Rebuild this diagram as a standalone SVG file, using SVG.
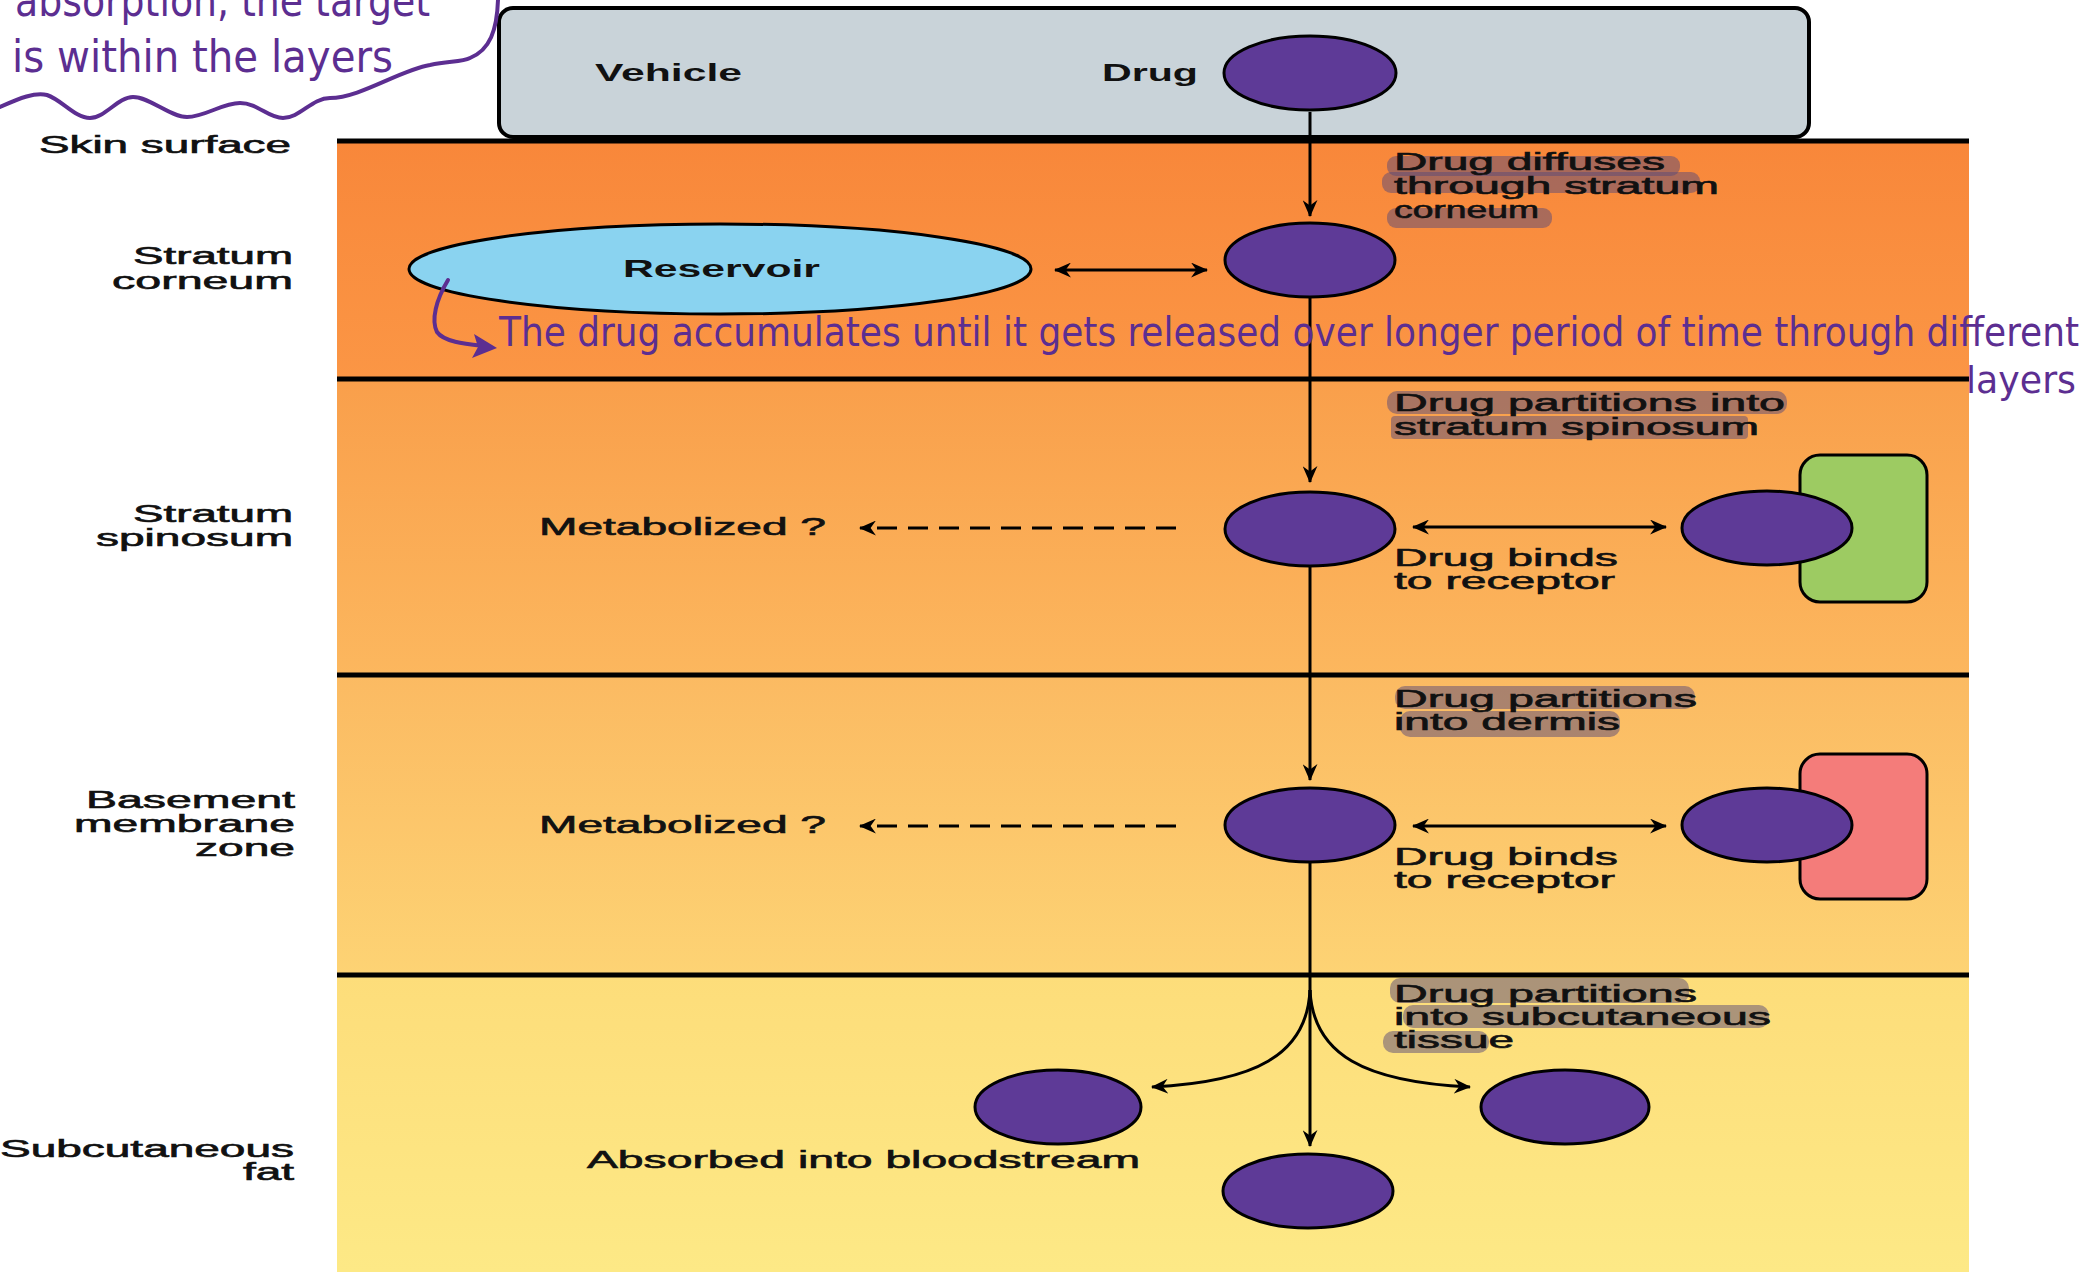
<svg xmlns="http://www.w3.org/2000/svg" width="2086" height="1272" viewBox="0 0 2086 1272">
<style>
.t{font-family:"Liberation Sans",Arial,sans-serif;font-size:23px;fill:#111;stroke:#111;stroke-width:0.6}
.tb{font-family:"Liberation Sans",Arial,sans-serif;font-size:23px;fill:#111;font-weight:bold}
.drug{fill:#5e3a97;stroke:#000;stroke-width:3}
.ln{fill:none;stroke:#000;stroke-width:3}
.dash{fill:none;stroke:#000;stroke-width:3;stroke-dasharray:20 11}
.layer{stroke:#000;stroke-width:5}
.hl{fill:#5a4a78;opacity:0.5}
.hw{font-family:"DejaVu Sans Condensed","DejaVu Sans",sans-serif;fill:#5c2e91}
.pen{fill:none;stroke:#5c2e91;stroke-width:4;stroke-linecap:round;stroke-linejoin:round}
</style>
<defs>
<marker id="ah" viewBox="0 0 16 14" refX="15" refY="7" markerWidth="17" markerHeight="15" markerUnits="userSpaceOnUse" orient="auto-start-reverse">
<path d="M0,0 L16,7 L0,14 L5,7 Z" fill="#000"/>
</marker>
<linearGradient id="g1" x1="0" y1="0" x2="0" y2="1"><stop offset="0" stop-color="#f8873a"/><stop offset="1" stop-color="#fb9645"/></linearGradient>
<linearGradient id="g2" x1="0" y1="0" x2="0" y2="1"><stop offset="0" stop-color="#f99f4b"/><stop offset="1" stop-color="#fcb75e"/></linearGradient>
<linearGradient id="g3" x1="0" y1="0" x2="0" y2="1"><stop offset="0" stop-color="#fbba62"/><stop offset="1" stop-color="#fdd374"/></linearGradient>
<linearGradient id="g4" x1="0" y1="0" x2="0" y2="1"><stop offset="0" stop-color="#fddd7a"/><stop offset="1" stop-color="#fde986"/></linearGradient>
</defs>
<rect width="2086" height="1272" fill="#fff"/>

<g id="layers">
<rect x="337" y="141" width="1632" height="238" fill="url(#g1)"/>
<rect x="337" y="379" width="1632" height="296" fill="url(#g2)"/>
<rect x="337" y="675" width="1632" height="300" fill="url(#g3)"/>
<rect x="337" y="975" width="1632" height="297" fill="url(#g4)"/>
<line class="layer" x1="337" y1="379" x2="1969" y2="379"/>
<line class="layer" x1="337" y1="675" x2="1969" y2="675"/>
<line class="layer" x1="337" y1="975" x2="1969" y2="975"/>
</g>

<g id="layer-labels">
<text class="t" x="291" y="153" text-anchor="end" textLength="252" lengthAdjust="spacingAndGlyphs">Skin surface</text>
<text class="t" x="293" y="264" text-anchor="end" textLength="160" lengthAdjust="spacingAndGlyphs">Stratum</text>
<text class="t" x="293" y="289" text-anchor="end" textLength="181" lengthAdjust="spacingAndGlyphs">corneum</text>
<text class="t" x="293" y="522" text-anchor="end" textLength="160" lengthAdjust="spacingAndGlyphs">Stratum</text>
<text class="t" x="293" y="546" text-anchor="end" textLength="197" lengthAdjust="spacingAndGlyphs">spinosum</text>
<text class="t" x="295" y="808" text-anchor="end" textLength="209" lengthAdjust="spacingAndGlyphs">Basement</text>
<text class="t" x="295" y="832" text-anchor="end" textLength="221" lengthAdjust="spacingAndGlyphs">membrane</text>
<text class="t" x="295" y="856" text-anchor="end" textLength="100" lengthAdjust="spacingAndGlyphs">zone</text>
<text class="t" x="294" y="1157" text-anchor="end" textLength="294" lengthAdjust="spacingAndGlyphs">Subcutaneous</text>
<text class="t" x="294" y="1180" text-anchor="end" textLength="51" lengthAdjust="spacingAndGlyphs">fat</text>
</g>

<g id="vehicle">
<rect x="499" y="8" width="1310" height="129" rx="14" fill="#c9d3d9" stroke="#000" stroke-width="4"/>
<text class="tb" x="595" y="81" textLength="147" lengthAdjust="spacingAndGlyphs">Vehicle</text>
<text class="tb" x="1102" y="81" textLength="96" lengthAdjust="spacingAndGlyphs">Drug</text>
</g>
<line class="layer" x1="337" y1="141" x2="1969" y2="141"/>

<g id="drug-vehicle"><ellipse class="drug" cx="1310" cy="73" rx="86" ry="37"/></g>

<g id="reservoir">
<ellipse cx="720" cy="269" rx="311" ry="45" fill="#8ad3f0" stroke="#000" stroke-width="3"/>
<text class="tb" x="623" y="277" textLength="197" lengthAdjust="spacingAndGlyphs">Reservoir</text>
</g>
<g id="drug-corneum"><ellipse class="drug" cx="1310" cy="260" rx="85" ry="37"/></g>

<g id="drug-spinosum"><ellipse class="drug" cx="1310" cy="529" rx="85" ry="37"/></g>
<g id="receptor-green">
<rect x="1800" y="455" width="127" height="147" rx="20" fill="#9dcb62" stroke="#000" stroke-width="3"/>
<ellipse class="drug" cx="1767" cy="528" rx="85" ry="37"/>
</g>

<g id="drug-basement"><ellipse class="drug" cx="1310" cy="825" rx="85" ry="37"/></g>
<g id="receptor-red">
<rect x="1800" y="754" width="127" height="145" rx="20" fill="#f47c7a" stroke="#000" stroke-width="3"/>
<ellipse class="drug" cx="1767" cy="825" rx="85" ry="37"/>
</g>

<g id="drug-fat-left"><ellipse class="drug" cx="1058" cy="1107" rx="83" ry="37"/></g>
<g id="drug-fat-right"><ellipse class="drug" cx="1565" cy="1107" rx="84" ry="37"/></g>
<g id="drug-blood"><ellipse class="drug" cx="1308" cy="1191" rx="85" ry="37"/></g>

<g id="connectors">
<path class="ln" d="M1310 112 V216" marker-end="url(#ah)"/>
<path class="ln" d="M1310 298 V482" marker-end="url(#ah)"/>
<path class="ln" d="M1310 567 V780" marker-end="url(#ah)"/>
<path class="ln" d="M1310 863 V1146" marker-end="url(#ah)"/>
<path class="ln" d="M1310 990 C1307 1055 1255 1082 1152 1087" marker-end="url(#ah)"/>
<path class="ln" d="M1310 990 C1313 1055 1365 1082 1470 1087" marker-end="url(#ah)"/>
<path class="ln" d="M1055 270 H1207" marker-start="url(#ah)" marker-end="url(#ah)"/>
<path class="ln" d="M1413 527 H1666" marker-start="url(#ah)" marker-end="url(#ah)"/>
<path class="ln" d="M1413 826 H1666" marker-start="url(#ah)" marker-end="url(#ah)"/>
<path class="dash" d="M1176 528 H860" marker-end="url(#ah)"/>
<path class="dash" d="M1176 826 H860" marker-end="url(#ah)"/>
</g>

<g id="highlights">
<rect class="hl" x="1387" y="156" width="293" height="20" rx="9"/>
<rect class="hl" x="1382" y="172" width="318" height="21" rx="9"/>
<rect class="hl" x="1387" y="208" width="165" height="20" rx="9"/>
<rect class="hl" x="1387" y="391" width="400" height="23" rx="10"/>
<rect class="hl" x="1391" y="416" width="357" height="23" rx="4"/>
<rect class="hl" x="1395" y="686" width="300" height="23" rx="10"/>
<rect class="hl" x="1400" y="711" width="220" height="26" rx="10"/>
<rect class="hl" x="1390" y="978" width="299" height="25" rx="10"/>
<rect class="hl" x="1403" y="1005" width="366" height="23" rx="10"/>
<rect class="hl" x="1383" y="1031" width="106" height="22" rx="10"/>
</g>

<g id="labels">
<text class="t" x="1394" y="170" textLength="271" lengthAdjust="spacingAndGlyphs">Drug diffuses</text>
<text class="t" x="1394" y="194" textLength="325" lengthAdjust="spacingAndGlyphs">through stratum</text>
<text class="t" x="1394" y="218" textLength="145" lengthAdjust="spacingAndGlyphs">corneum</text>
<text class="t" x="1394" y="411" textLength="391" lengthAdjust="spacingAndGlyphs">Drug partitions into</text>
<text class="t" x="1394" y="435" textLength="365" lengthAdjust="spacingAndGlyphs">stratum spinosum</text>
<text class="t" x="1394" y="566" textLength="224" lengthAdjust="spacingAndGlyphs">Drug binds</text>
<text class="t" x="1394" y="589" textLength="221" lengthAdjust="spacingAndGlyphs">to receptor</text>
<text class="t" x="539" y="535" textLength="287" lengthAdjust="spacingAndGlyphs">Metabolized ?</text>
<text class="t" x="1394" y="707" textLength="303" lengthAdjust="spacingAndGlyphs">Drug partitions</text>
<text class="t" x="1394" y="730" textLength="226" lengthAdjust="spacingAndGlyphs">into dermis</text>
<text class="t" x="1394" y="865" textLength="224" lengthAdjust="spacingAndGlyphs">Drug binds</text>
<text class="t" x="1394" y="888" textLength="221" lengthAdjust="spacingAndGlyphs">to receptor</text>
<text class="t" x="539" y="833" textLength="287" lengthAdjust="spacingAndGlyphs">Metabolized ?</text>
<text class="t" x="1394" y="1002" textLength="303" lengthAdjust="spacingAndGlyphs">Drug partitions</text>
<text class="t" x="1394" y="1025" textLength="377" lengthAdjust="spacingAndGlyphs">into subcutaneous</text>
<text class="t" x="1394" y="1048" textLength="120" lengthAdjust="spacingAndGlyphs">tissue</text>
<text class="t" x="587" y="1168" textLength="553" lengthAdjust="spacingAndGlyphs">Absorbed into bloodstream</text>
</g>

<g id="annotations">
<path class="pen" d="M0 107 C20 98 35 92 47 95 C62 100 75 118 90 118 C105 118 118 97 133 97 C150 97 170 117 187 117 C205 117 222 103 240 103 C258 103 268 118 283 118 C300 118 312 98 330 98 C360 98 400 70 430 65 C450 61 462 62 470 58 C490 50 497 30 498 0"/>
<text class="hw" x="15" y="16" font-size="44" textLength="415" lengthAdjust="spacingAndGlyphs">absorption, the target</text>
<text class="hw" x="12" y="72" font-size="44" textLength="381" lengthAdjust="spacingAndGlyphs">is within the layers</text>
<path class="pen" d="M448 280 C436 300 431 320 437 332 C444 342 466 344 484 346"/>
<path d="M474 334 L497 348 L472 358 L478 347 Z" fill="#5c2e91"/>
<text class="hw" x="499" y="346" font-size="40" textLength="1580" lengthAdjust="spacingAndGlyphs">The drug accumulates until it gets released over longer period of time through different</text>
<text class="hw" x="1966" y="393" font-size="38" textLength="110" lengthAdjust="spacingAndGlyphs">layers</text>
</g>
</svg>
